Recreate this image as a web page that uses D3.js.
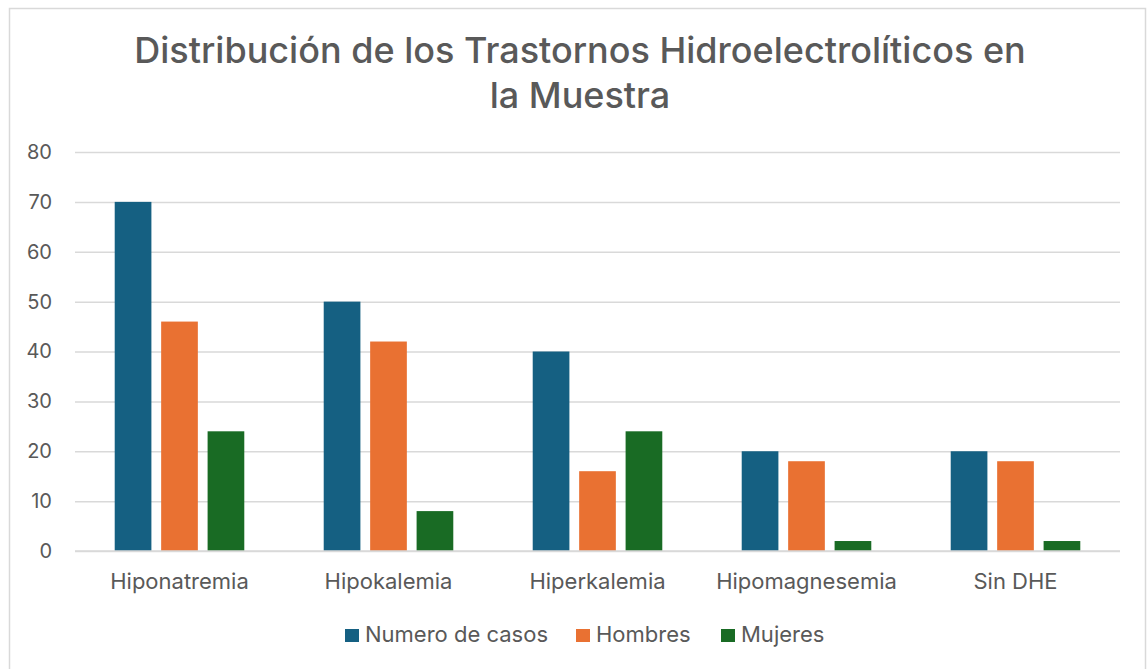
<!DOCTYPE html>
<html><head><meta charset="utf-8">
<script src="https://cdn.jsdelivr.net/npm/d3@7"></script>
<style>body{margin:0;background:#fff}svg{display:block}</style>
</head><body>
<svg id="c" width="1147" height="669"></svg>
<script>
const categories = ["Hiponatremia","Hipokalemia","Hiperkalemia","Hipomagnesemia","Sin DHE"];
const seriesNames = ["Numero de casos","Hombres","Mujeres"];
const numeroDeCasos = [70,50,40,20,20];
const hombres = [46,42,16,18,18];
const mujeres = [24,8,24,2,2];
const yTicks = [0,10,20,30,40,50,60,70,80];
const colors = ["#156082","#E97132","#196B24"];
const titleLines = ["Distribución de los Trastornos Hidroelectrolíticos en","la Muestra"];

const seriesValues = [numeroDeCasos, hombres, mujeres];
const svg = d3.select("#c");
const font = "Inter, 'Open Sans', sans-serif";
const txt = "#595959";

svg.append("rect").attr("x",9.5).attr("y",8.5).attr("width",1136).attr("height",670)
  .attr("fill","#fff").attr("stroke","#d9d9d9").attr("stroke-width",1.5);

const m = {left:75, right:1120, top:152, bottom:551};
const x = d3.scaleBand().domain(categories).range([m.left,m.right]).paddingInner(0.38).paddingOuter(0.19);
const xs = d3.scaleBand().domain(seriesNames).range([0,x.bandwidth()]).paddingInner(0.21);
const y = d3.scaleLinear().domain([0,80]).range([m.bottom,m.top]);

// title
svg.append("g").selectAll("text").data(titleLines).join("text")
  .attr("x",580).attr("y",(d,i)=>63+i*45).attr("text-anchor","middle")
  .attr("font-family",font).attr("font-size",36).attr("font-weight",500).attr("fill",txt).text(d=>d);

// grid
const yAxis = d3.axisLeft(y).tickValues(yTicks).tickSize(-(m.right-m.left)).tickPadding(23);
const ga = svg.append("g").attr("transform",`translate(${m.left},0)`).call(yAxis);
ga.select(".domain").remove();
ga.selectAll(".tick line").attr("stroke","#d9d9d9").attr("stroke-width",1.5);
ga.selectAll(".tick text").attr("font-family",font).attr("font-size",20).attr("fill",txt);

// bars
const groups = svg.append("g").selectAll("g").data(categories).join("g")
  .attr("transform",d=>`translate(${x(d)},0)`);
groups.selectAll("rect").data((c,i)=>seriesNames.map((s,k)=>({s,k,v:seriesValues[k][i]}))).join("rect")
  .attr("x",d=>xs(d.s)).attr("width",xs.bandwidth())
  .attr("y",d=>y(d.v)).attr("height",d=>y(0)-y(d.v))
  .attr("fill",d=>colors[d.k]);

// baseline redraw
svg.append("line").attr("x1",m.left).attr("x2",m.right).attr("y1",y(0)).attr("y2",y(0))
  .attr("stroke","#d9d9d9").attr("stroke-width",1.5);

// x axis labels
const xAxis = d3.axisBottom(x).tickSize(0).tickPadding(22);
const gx = svg.append("g").attr("transform",`translate(0,${m.bottom})`).call(xAxis);
gx.select(".domain").remove();
gx.selectAll(".tick text").attr("font-family",font).attr("font-size",22).attr("fill",txt);

// legend
const legendX = [345,576,721];
const lg = svg.append("g").selectAll("g").data(seriesNames).join("g")
  .attr("transform",(d,i)=>`translate(${legendX[i]},629)`);
lg.append("rect").attr("width",14).attr("height",13).attr("fill",(d,i)=>colors[i]);
lg.append("text").attr("x",20).attr("y",13).attr("font-family",font).attr("font-size",22)
  .attr("fill",txt).text(d=>d);
</script>
</body></html>
